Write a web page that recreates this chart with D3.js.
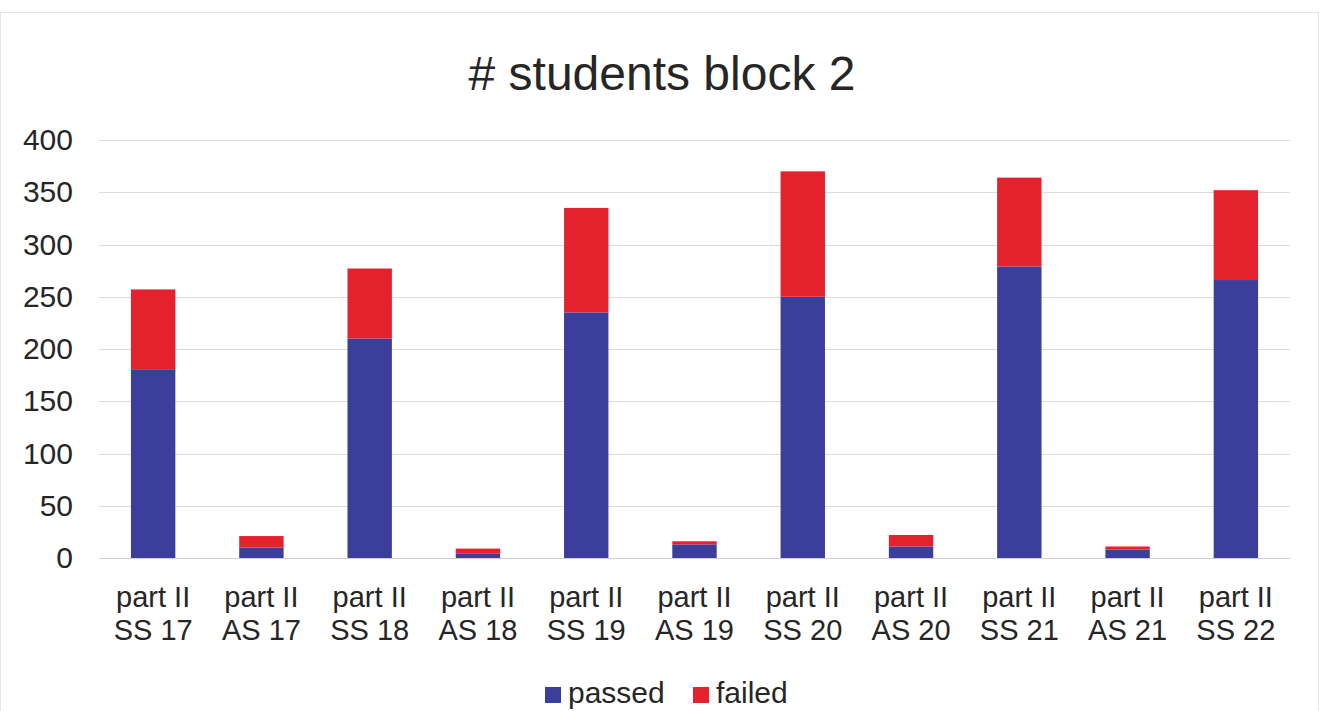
<!DOCTYPE html>
<html>
<head>
<meta charset="utf-8">
<script src="https://cdn.jsdelivr.net/npm/d3@7"></script>
<style>
  body { margin: 0; background: #fff; }
  text { font-family: "Liberation Sans", Arial, sans-serif; fill: #262626; }
</style>
</head>
<body>
<div id="chart"></div>
<script>
var categories = ["part II|SS 17", "part II|AS 17", "part II|SS 18", "part II|AS 18", "part II|SS 19",
    "part II|AS 19", "part II|SS 20", "part II|AS 20", "part II|SS 21", "part II|AS 21", "part II|SS 22"];
var passed = [180, 10, 210, 4, 235, 13, 250, 11, 279, 8, 266];
var failed = [77, 11, 67, 5, 100, 3, 120, 11, 85, 3, 86];
var seriesNames = ["passed", "failed"];
var seriesColors = ["#3b3f9b", "#e3222e"];
var yTicks = [0, 50, 100, 150, 200, 250, 300, 350, 400];

var width = 1329, height = 711;
var margin = { top: 140, right: 39, bottom: 153, left: 99 };

var svg = d3.select("#chart")
    .append("svg")
    .attr("width", width)
    .attr("height", height);

// faint page frame
svg.append("rect")
    .attr("x", 0.5).attr("y", 12.5)
    .attr("width", 1318).attr("height", 720)
    .attr("fill", "none")
    .attr("stroke", "#e6e6e6");

svg.append("text")
    .attr("x", 662)
    .attr("y", 90)
    .attr("text-anchor", "middle")
    .style("font-size", "48px")
    .text("# students block 2");

var rows = categories.map(function (c, i) {
    return { cat: c, passed: passed[i], failed: failed[i] };
});
var stacked = d3.stack().keys(seriesNames)(rows);

var x = d3.scaleBand()
    .domain(categories)
    .range([margin.left, width - margin.right])
    .paddingInner(0.59)
    .paddingOuter(0.295);

var y = d3.scaleLinear()
    .domain([0, 400])
    .range([558, margin.top]);

// gridlines
svg.append("g")
    .selectAll("line")
    .data(yTicks)
    .enter()
    .append("line")
    .attr("x1", margin.left)
    .attr("x2", width - margin.right)
    .attr("y1", function (d) { return Math.round(y(d)) + 0.5; })
    .attr("y2", function (d) { return Math.round(y(d)) + 0.5; })
    .attr("stroke", function (d) { return d === 0 ? "#cfcfcf" : "#dcdcdc"; })
    .attr("stroke-width", 1);

// y axis labels
var yAxis = svg.append("g")
    .attr("transform", "translate(" + (margin.left - 26) + ",0)")
    .call(d3.axisLeft(y).tickValues(yTicks).tickSize(0).tickPadding(0));
yAxis.select(".domain").remove();
yAxis.selectAll("text")
    .style("font-size", "30px")
    .style("font-family", "'Liberation Sans', Arial, sans-serif")
    .attr("fill", "#262626");

// bars
svg.append("g")
    .selectAll("g")
    .data(stacked)
    .enter()
    .append("g")
    .attr("fill", function (d, i) { return seriesColors[i]; })
    .selectAll("rect")
    .data(function (d) { return d; })
    .enter()
    .append("rect")
    .attr("x", function (d) { return x(d.data.cat); })
    .attr("y", function (d) { return y(d[1]); })
    .attr("height", function (d) { return y(d[0]) - y(d[1]); })
    .attr("width", x.bandwidth());

// x axis labels (two lines)
var xAxis = svg.append("g")
    .attr("transform", "translate(0,558)")
    .call(d3.axisBottom(x).tickSize(0).tickFormat(""));
xAxis.select(".domain").remove();
xAxis.selectAll(".tick").each(function (d) {
    var parts = d.split("|");
    var t = d3.select(this).append("text")
        .attr("text-anchor", "middle")
        .style("font-size", "29px")
        .attr("fill", "#262626");
    t.append("tspan").attr("x", 0).attr("y", 49).text(parts[0]);
    t.append("tspan").attr("x", 0).attr("y", 82).text(parts[1]);
});

// legend
var legend = svg.append("g");
var items = [{ name: "passed", x: 545 }, { name: "failed", x: 693 }];
items.forEach(function (it, i) {
    legend.append("rect")
        .attr("x", it.x)
        .attr("y", 687)
        .attr("width", 16)
        .attr("height", 16)
        .attr("fill", seriesColors[i]);
    legend.append("text")
        .attr("x", it.x + 23)
        .attr("y", 703)
        .style("font-size", "30px")
        .text(it.name);
});
</script>
</body>
</html>
